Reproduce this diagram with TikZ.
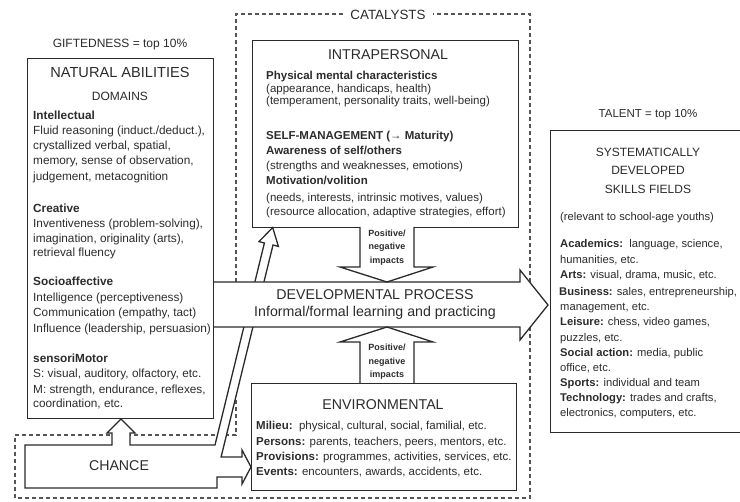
\documentclass[tikz,border=0pt]{standalone}
\usepackage{fontspec}
\setmainfont{Liberation Sans}
\definecolor{ln}{HTML}{2A2A2A}
\definecolor{txt}{HTML}{2C2C2C}
\begin{document}
\begin{tikzpicture}[x=1pt,y=-1pt,
  frame/.style={draw=ln, line width=1.3pt, fill=none, inner sep=0pt, anchor=north west},
  blk/.style={draw=ln, line width=1.3pt, fill=white, line join=miter},
  dsh/.style={draw=ln!80, line width=1.2pt, dash pattern=on 4pt off 3pt},
  body/.style={anchor=west, inner sep=0pt, text=txt, font=\fontsize{11.5}{13}\selectfont, text height=8.5pt, text depth=2.5pt},
  nbody/.style={body, font=\fontsize{11.8}{13}\selectfont},
  tbody/.style={body, font=\fontsize{11.2}{13}\selectfont},
  head/.style={inner sep=0pt, text=txt, font=\fontsize{14.2}{16}\selectfont, text height=10pt, text depth=0pt},
  sub/.style={inner sep=0pt, text=txt, font=\fontsize{12}{14}\selectfont, text height=8.6pt, text depth=0pt},
  imp/.style={inner sep=0pt, text=txt, font=\fontsize{9}{10}\selectfont\bfseries, text height=6.5pt, text depth=1.8pt}]
\useasboundingbox (0,0) rectangle (740,502);
\clip (0,0) rectangle (740,502);
\fill[white] (0,0) rectangle (740,502);

% catalysts dashed outline
\draw[dsh] (236,400) -- (236,435) -- (15,435) -- (15,498) -- (530,498) -- (530,14) -- (236,14) -- (236,300);
\node[inner sep=0pt, fill=white, inner xsep=7pt, inner ysep=3pt, text=txt, font=\fontsize{13.4}{15}\selectfont, text height=9.5pt, text depth=0pt] (cat) at (388,15) {CATALYSTS};

% chance shape with its three arrows
\draw[blk] (25,445) -- (112,445) -- (112,433) -- (107,433) -- (121,419) -- (135,433) -- (130,433) -- (130,445)
  -- (215,445) -- (264.4,243) -- (259,241.6) -- (272.7,227.5) -- (278.4,246.4) -- (273,245)
  -- (221.1,457) -- (242,457) -- (242,450) -- (251,467) -- (242,484) -- (242,477) -- (217,477) -- (217,488) -- (25,488) -- cycle;
\node[head] (chance) at (119,466) {CHANCE};

% developmental process arrow
\draw[blk] (213,282) -- (520,282) -- (520,270) -- (548,305) -- (520,340) -- (520,327) -- (213,327);
\node[head] (dev) at (375,295) {DEVELOPMENTAL PROCESS};
\node[inner sep=0pt, text=txt, font=\fontsize{14.2}{16}\selectfont, text height=10.3pt, text depth=3pt] (devsub) at (375,313) {Informal/formal learning and practicing};

% boxes
\node[frame, minimum width=186pt, minimum height=360pt] (nat) at (27,58) {};
\node[frame, minimum width=266pt, minimum height=187pt] (intra) at (252,40) {};
\node[frame, minimum width=265pt, minimum height=107pt] (env) at (251,383) {};
\node[frame, minimum width=200pt, minimum height=302pt] (tal) at (550,130) {};

% impacts arrows
\draw[blk] (360,227) -- (360,267) -- (340,267) -- (387,282) -- (433,267) -- (414,267) -- (414,227);
\draw[blk] (360,383) -- (360,342) -- (340,342) -- (387,327) -- (433,342) -- (414,342) -- (414,383);
\node[imp] (i1) at (387,234) {Positive/};
\node[imp] (i2) at (387,247) {negative};
\node[imp] (i3) at (387,261) {impacts};
\node[imp] (i4) at (387,348) {Positive/};
\node[imp] (i5) at (387,362) {negative};
\node[imp] (i6) at (387,375) {impacts};

% outer labels
\node[sub] (gift) at (120,43) {GIFTEDNESS = top 10\%};
\node[inner sep=0pt, text=txt, font=\fontsize{11.5}{13}\selectfont, text height=8.3pt, text depth=0pt] (talab) at (648,113) {TALENT = top 10\%};

% natural abilities
\node[head, font=\fontsize{14.6}{16}\selectfont] (natt) at (120,73) {NATURAL ABILITIES};
\node[sub] (dom) at (120,96) {DOMAINS};
\node[nbody] (n1) at (33,117) {\textbf{Intellectual}};
\node[nbody] (n2) at (33,132) {Fluid reasoning (induct./deduct.),};
\node[nbody] (n3) at (33,147) {crystallized verbal, spatial,};
\node[nbody] (n4) at (33,162) {memory, sense of observation,};
\node[nbody] (n5) at (33,178) {judgement, metacognition};
\node[nbody] (n6) at (33,210) {\textbf{Creative}};
\node[nbody] (n7) at (33,225) {Inventiveness (problem-solving),};
\node[nbody] (n8) at (33,240) {imagination, originality (arts),};
\node[nbody] (n9) at (33,254) {retrieval fluency};
\node[nbody] (n10) at (33,283) {\textbf{Socioaffective}};
\node[nbody] (n11) at (33,299) {Intelligence (perceptiveness)};
\node[nbody] (n12) at (33,314) {Communication (empathy, tact)};
\node[nbody] (n13) at (33,330) {Influence (leadership, persuasion)};
\node[nbody] (n14) at (33,360) {\textbf{sensoriMotor}};
\node[nbody] (n15) at (33,375) {S: visual, auditory, olfactory, etc.};
\node[nbody] (n16) at (33,391) {M: strength, endurance, reflexes,};
\node[nbody] (n17) at (33,405) {coordination, etc.};

% intrapersonal
\node[head] (intt) at (388,55) {INTRAPERSONAL};
\node[body] (p1) at (266,77) {\textbf{Physical mental characteristics}};
\node[body] (p2) at (266,89.5) {(appearance, handicaps, health)};
\node[body] (p3) at (266,102) {(temperament, personality traits, well-being)};
\node[body] (p4) at (266,137) {\textbf{SELF-MANAGEMENT (→ Maturity)}};
\node[body] (p5) at (266,152) {\textbf{Awareness of self/others}};
\node[body] (p6) at (266,167) {(strengths and weaknesses, emotions)};
\node[body] (p7) at (266,182) {\textbf{Motivation/volition}};
\node[body] (p8) at (266,199) {(needs, interests, intrinsic motives, values)};
\node[body] (p9) at (266,213) {(resource allocation, adaptive strategies, effort)};

% environmental
\node[head] (envt) at (383,405) {ENVIRONMENTAL};
\node[body] (e1) at (256,427) {\textbf{Milieu:}\ \ physical, cultural, social, familial, etc.};
\node[body] (e2) at (256,443) {\textbf{Persons:} parents, teachers, peers, mentors, etc.};
\node[body] (e3) at (256,458) {\textbf{Provisions:} programmes, activities, services, etc.};
\node[body] (e4) at (256,473) {\textbf{Events:} encounters, awards, accidents, etc.};

% talent
\node[sub] (t1) at (648,152) {SYSTEMATICALLY};
\node[sub] (t2) at (648,170) {DEVELOPED};
\node[sub] (t3) at (648,189) {SKILLS FIELDS};
\node[tbody] (s0) at (560,218) {(relevant to school-age youths)};
\node[tbody] (s1) at (560,245) {\textbf{Academics:}\ \ language, science,};
\node[tbody] (s2) at (560,261) {humanities, etc.};
\node[tbody] (s3) at (560,276) {\textbf{Arts:} visual, drama, music, etc.};
\node[tbody] (s4) at (559,293) {\textbf{Business:} sales, entrepreneurship,};
\node[tbody] (s5) at (560,308) {management, etc.};
\node[tbody] (s6) at (560,323) {\textbf{Leisure:} chess, video games,};
\node[tbody] (s7) at (560,339) {puzzles, etc.};
\node[tbody] (s8) at (560,354) {\textbf{Social action:} media, public};
\node[tbody] (s9) at (560,369) {office, etc.};
\node[tbody] (s10) at (560,384) {\textbf{Sports:} individual and team};
\node[tbody] (s11) at (560,399) {\textbf{Technology:} trades and crafts,};
\node[tbody] (s12) at (560,414) {electronics, computers, etc.};
\end{tikzpicture}
\end{document}
